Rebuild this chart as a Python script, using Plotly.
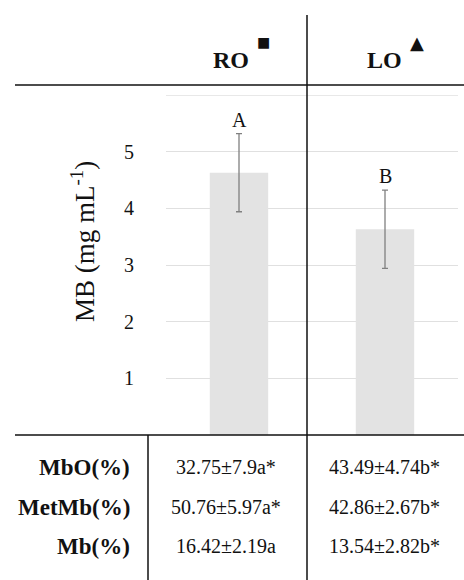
import plotly.graph_objects as go

# ---- data ----
categories = ["RO", "LO"]
mb_values = [4.63, 3.63]
mb_errors = [0.69, 0.69]
sig_letters = ["A", "B"]
header_symbols = ["■", "▲"]
y_ticks = [1, 2, 3, 4, 5]
y_top = 6
table_rows = ["MbO(%)", "MetMb(%)", "Mb(%)"]
ro_table = ["32.75±7.9a*", "50.76±5.97a*", "16.42±2.19a"]
lo_table = ["43.49±4.74b*", "42.86±2.67b*", "13.54±2.82b*"]

W, H = 464, 580
def px(x):
    return x / W
def py(y):
    return 1 - y / H

SERIF = "Liberation Serif"
INK = "#111"

fig = go.Figure()
fig.add_trace(go.Bar(
    x=categories, y=mb_values,
    marker=dict(color="#e3e3e3", line=dict(width=0)),
    error_y=dict(type="data", array=mb_errors, color="#808080", thickness=1.3, width=3),
    showlegend=False, hoverinfo="skip",
))

def ann(x, y, text, size, xanchor="center", family=SERIF, **kw):
    d = dict(x=px(x), y=py(y), xref="paper", yref="paper", text=text, showarrow=False,
             xanchor=xanchor, yanchor="middle", font=dict(family=family, size=size, color=INK))
    d.update(kw)
    return d

annotations = []
# significance letters above error bars
for c, v, e, l in zip(categories, mb_values, mb_errors, sig_letters):
    annotations.append(dict(x=c, y=v + e, xref="x", yref="y", text=l, showarrow=False,
                            xanchor="center", yanchor="bottom", yshift=1,
                            font=dict(family=SERIF, size=20, color=INK)))

# y-axis title
annotations.append(ann(83, 242, "MB (mg mL<sup>-1</sup>)", 27, textangle=-90))

# column headers
header_x = [231, 384]
sym_x = [263, 417]
sym_size = [14, 18]
for c, hx, s, sx, ss in zip(categories, header_x, header_symbols, sym_x, sym_size):
    annotations.append(ann(hx, 60, "<b>" + c + "</b>", 24))
    annotations.append(ann(sx, 42, s, ss, family="DejaVu Sans"))

# table
row_y = [467, 507, 546]
for r, a, b, ry in zip(table_rows, ro_table, lo_table, row_y):
    annotations.append(ann(132, ry, "<b>" + r + "</b>", 23, xanchor="right"))
    annotations.append(ann(226, ry, a, 20))
    annotations.append(ann(384, ry, b, 20))

line = dict(color=INK, width=1.5)
shapes = [
    dict(type="line", xref="x domain", yref="y", x0=0, x1=1, y0=y_top, y1=y_top,
         line=dict(color="#e0e0e0", width=1.3), layer="below"),
    dict(type="line", xref="paper", yref="paper", x0=px(15), x1=1, y0=py(85), y1=py(85), line=line),
    dict(type="line", xref="paper", yref="paper", x0=px(15), x1=1, y0=py(435), y1=py(435), line=line),
    dict(type="line", xref="paper", yref="paper", x0=px(307), x1=px(307), y0=py(15), y1=0, line=line),
    dict(type="line", xref="paper", yref="paper", x0=px(148), x1=px(148), y0=py(435), y1=0, line=line),
]

fig.update_layout(
    width=W, height=H,
    margin=dict(l=0, r=0, t=0, b=0),
    paper_bgcolor="white", plot_bgcolor="white",
    bargap=0.6,
    xaxis=dict(domain=[px(166), px(458)], showticklabels=False, showgrid=False, zeroline=False,
               showline=False),
    yaxis=dict(domain=[py(435), py(95)], range=[0, y_top], tickvals=y_ticks,
               showgrid=True, gridcolor="#e0e0e0", gridwidth=1.3, zeroline=False, showline=False,
               ticks="", ticklabelstandoff=31,
               tickfont=dict(family=SERIF, size=20, color=INK)),
    annotations=annotations,
    shapes=shapes,
)

fig.write_html(
    "out.html",
    config={"displayModeBar": False},
    post_script="document.body.style.margin='0';document.body.style.overflow='hidden';",
)
